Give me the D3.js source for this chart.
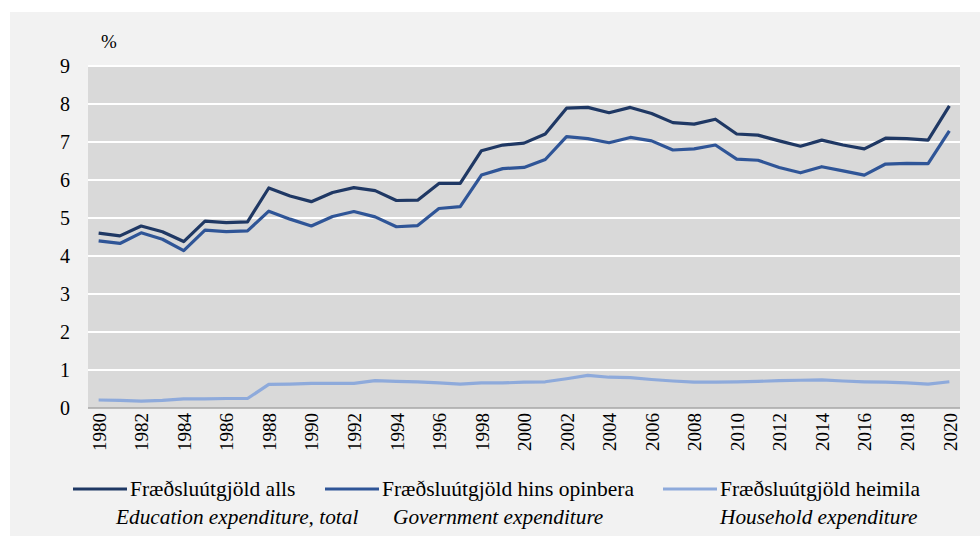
<!doctype html>
<html lang="en">
<head>
  <meta charset="utf-8">
  <title>Fræðsluútgjöld</title>
  <script src="https://d3js.org/d3.v7.min.js"></script>
  <style>
    body { margin: 0px; background: #ffffff; }
    svg text { font-family: "Liberation Serif", "Times New Roman", "DejaVu Serif", serif; fill: #000; }
  </style>
</head>
<body>
  <div id="container"></div>

  <script>
    // data (% of GDP)
    var years = d3.range(1980, 2021);
    var total = [4.60, 4.53, 4.79, 4.64, 4.38, 4.92, 4.88, 4.90, 5.79, 5.58,
                 5.43, 5.67, 5.80, 5.72, 5.46, 5.47, 5.91, 5.91, 6.77, 6.92,
                 6.97, 7.21, 7.89, 7.91, 7.77, 7.91, 7.75, 7.51, 7.47, 7.60,
                 7.21, 7.18, 7.03, 6.89, 7.05, 6.92, 6.82, 7.10, 7.09, 7.05, 7.95];
    var government = [4.40, 4.33, 4.61, 4.44, 4.14, 4.68, 4.64, 4.66, 5.18, 4.97,
                      4.79, 5.04, 5.17, 5.03, 4.77, 4.80, 5.25, 5.30, 6.13, 6.30,
                      6.33, 6.54, 7.14, 7.09, 6.98, 7.12, 7.03, 6.79, 6.82, 6.92,
                      6.55, 6.52, 6.33, 6.19, 6.35, 6.24, 6.13, 6.42, 6.44, 6.43, 7.29];
    var household = [0.21, 0.20, 0.18, 0.20, 0.24, 0.24, 0.25, 0.25, 0.62, 0.63,
                     0.65, 0.65, 0.65, 0.72, 0.70, 0.69, 0.66, 0.63, 0.66, 0.66,
                     0.68, 0.69, 0.77, 0.86, 0.81, 0.80, 0.75, 0.71, 0.68, 0.68,
                     0.69, 0.70, 0.72, 0.73, 0.74, 0.71, 0.69, 0.68, 0.66, 0.63, 0.69];
    var yTicks = [0, 1, 2, 3, 4, 5, 6, 7, 8, 9];
    var xTicks = d3.range(1980, 2021, 2);

    var seriesNames = ["Fræðsluútgjöld alls", "Fræðsluútgjöld hins opinbera", "Fræðsluútgjöld heimila"];
    var seriesNamesEn = ["Education expenditure, total", "Government expenditure", "Household expenditure"];
    var seriesColors = ["#1f3864", "#2f5597", "#8eaadb"];

    var width = 980, height = 536;
    var margin = { top: 66, right: 20, bottom: 128, left: 88 };

    var svg = d3.select('div#container').append('svg')
        .attr('width', width)
        .attr('height', height)
        .attr('font-family', '"Liberation Serif", "Times New Roman", serif');

    // outer panel
    svg.append('rect')
        .attr('x', 10).attr('y', 12)
        .attr('width', width - 10).attr('height', height - 12)
        .attr('fill', '#f2f2f2');

    var x = d3.scalePoint()
        .domain(years)
        .range([margin.left, width - margin.right])
        .padding(0.5);

    var y = d3.scaleLinear()
        .domain([0, 9])
        .range([height - margin.bottom, margin.top]);

    // plot background
    svg.append('rect')
        .attr('x', margin.left).attr('y', margin.top)
        .attr('width', width - margin.right - margin.left)
        .attr('height', y(0) - margin.top)
        .attr('fill', '#d9d9d9');

    // gridlines
    svg.append('g')
        .selectAll('line')
        .data(yTicks.filter(function(d) { return d > 0; }))
        .enter()
        .append('line')
        .attr('x1', margin.left).attr('x2', width - margin.right)
        .attr('y1', function(d) { return y(d); })
        .attr('y2', function(d) { return y(d); })
        .attr('stroke', '#ffffff')
        .attr('stroke-width', 2);

    // y axis labels
    var yAxis = svg.append('g')
        .attr('transform', 'translate(' + margin.left + ',0)')
        .call(d3.axisLeft(y).tickValues(yTicks).tickSize(0).tickPadding(18));
    yAxis.attr('font-family', null);
    yAxis.select('.domain').remove();
    yAxis.selectAll('text')
        .style('font-size', '20px');

    svg.append('text')
        .attr('x', 101).attr('y', 48)
        .style('font-size', '19px')
        .text('%');

    // x axis
    var xAxis = svg.append('g')
        .attr('transform', 'translate(0,' + y(0) + ')')
        .call(d3.axisBottom(x).tickValues(xTicks).tickSize(0).tickPadding(0));
    xAxis.attr('font-family', null);
    xAxis.select('.domain')
        .attr('d', 'M' + margin.left + ',0H' + (width - margin.right))
        .attr('stroke', '#a6a6a6')
        .attr('stroke-width', 1.5);
    xAxis.selectAll('text')
        .attr('transform', 'rotate(-90)')
        .attr('text-anchor', 'end')
        .attr('x', -5)
        .attr('y', 0)
        .attr('dy', '0.35em')
        .style('font-size', '19px');

    // lines
    var allSeries = [total, government, household];
    var line = d3.line()
        .x(function(d, i) { return x(years[i]); })
        .y(function(d) { return y(d); });

    svg.append('g')
        .selectAll('path')
        .data(allSeries)
        .enter()
        .append('path')
        .attr('d', line)
        .attr('fill', 'none')
        .attr('stroke', function(d, i) { return seriesColors[i]; })
        .attr('stroke-width', 3.2)
        .attr('stroke-linejoin', 'round');

    // legend
    var legendX = [73, 325, 663];
    var legendItalicX = [116, 393, 720];
    var legend = svg.append('g');
    seriesNames.forEach(function(name, i) {
        legend.append('line')
            .attr('x1', legendX[i]).attr('x2', legendX[i] + 54)
            .attr('y1', 489).attr('y2', 489)
            .attr('stroke', seriesColors[i])
            .attr('stroke-width', 3.2);
        legend.append('text')
            .attr('x', legendX[i] + 57).attr('y', 496)
            .style('font-size', '21.5px')
            .text(name);
        legend.append('text')
            .attr('x', legendItalicX[i]).attr('y', 524)
            .style('font-size', '21.3px')
            .style('font-style', 'italic')
            .text(seriesNamesEn[i]);
    });
  </script>
</body>
</html>
